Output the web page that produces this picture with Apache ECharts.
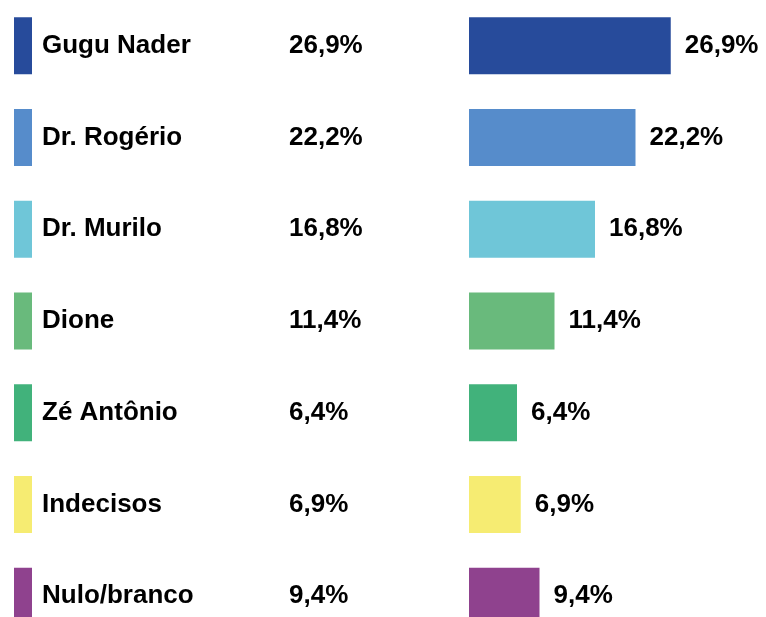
<!DOCTYPE html>
<html>
<head>
<meta charset="utf-8">
<script src="https://cdn.jsdelivr.net/npm/echarts@6/dist/echarts.min.js"></script>
<style>
  html, body { margin: 0; padding: 0; background: #fff; }
  #chart { width: 766px; height: 617px; }
</style>
</head>
<body>
<div id="chart"></div>
<script>
// candidatos e percentuais
const candidates = ['Gugu Nader', 'Dr. Rogério', 'Dr. Murilo', 'Dione', 'Zé Antônio', 'Indecisos', 'Nulo/branco'];
const percents = [26.9, 22.2, 16.8, 11.4, 6.4, 6.9, 9.4];
const colors = ['#274b9b', '#568ccb', '#6fc6d8', '#69ba7c', '#41b27b', '#f6ec72', '#8f428e'];

const fmt = v => v.toFixed(1).replace('.', ',') + '%';
const font = "'Liberation Sans', Arial, sans-serif";

const chart = echarts.init(document.getElementById('chart'));
chart.setOption({
  backgroundColor: '#fff',
  animation: false,
  grid: [
    { left: 14, width: 18, top: 0, height: 642, outerBoundsMode: 'none', containLabel: false },
    { left: 469, width: 300, top: 0, height: 642, outerBoundsMode: 'none', containLabel: false }
  ],
  xAxis: [
    { gridIndex: 0, type: 'value', min: 0, max: 1, show: false },
    { gridIndex: 1, type: 'value', min: 0, max: 40, show: false }
  ],
  yAxis: [
    {
      gridIndex: 0, type: 'category', data: candidates, inverse: true, position: 'right',
      axisLine: { show: false }, axisTick: { show: false },
      axisLabel: {
        margin: 10,
        formatter: (v, i) => '{n|' + v + '}{p|' + fmt(percents[i]) + '}',
        rich: {
          n: { width: 247, fontSize: 26, fontWeight: 'bold', fontFamily: font, color: '#000' },
          p: { fontSize: 26, fontWeight: 'bold', fontFamily: font, color: '#000' }
        }
      }
    },
    {
      gridIndex: 1, type: 'category', data: candidates, inverse: true, show: false
    }
  ],
  series: [
    {
      // marcadores de cor à esquerda
      type: 'bar', xAxisIndex: 0, yAxisIndex: 0, barWidth: 57,
      data: candidates.map((c, i) => ({ value: 1, itemStyle: { color: colors[i] } })),
      silent: true
    },
    {
      type: 'bar', xAxisIndex: 1, yAxisIndex: 1, barWidth: 57,
      data: percents.map((v, i) => ({ value: v, itemStyle: { color: colors[i] } })),
      label: {
        show: true, position: 'right', distance: 14,
        formatter: p => fmt(p.value),
        fontSize: 26, fontWeight: 'bold', fontFamily: font, color: '#000'
      }
    }
  ]
});
window.onresize = chart.resize;
</script>
</body>
</html>
